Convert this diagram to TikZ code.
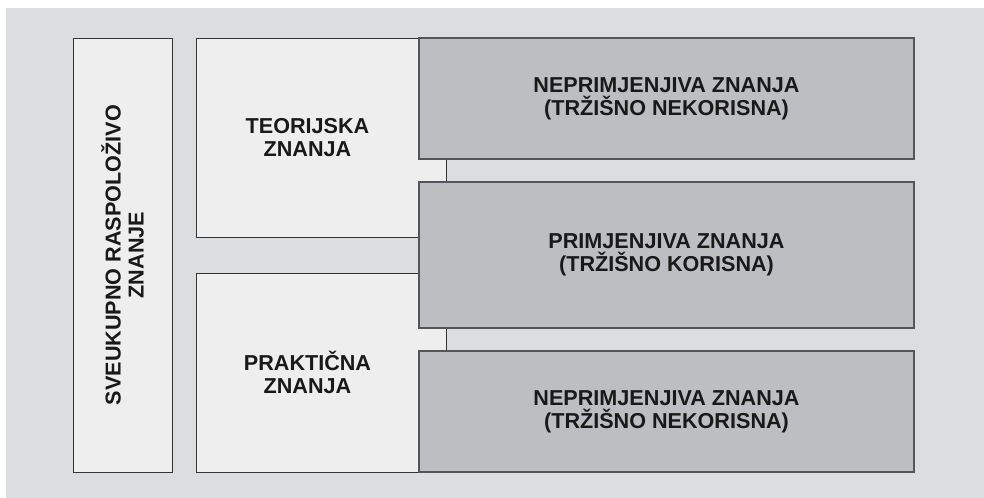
\documentclass[tikz,border=0pt]{standalone}
\usepackage{fontspec}
\setmainfont{Liberation Sans}
\definecolor{bgcol}{RGB}{220,221,223}
\definecolor{lightcol}{RGB}{238,238,238}
\definecolor{darkcol}{RGB}{189,190,193}
\definecolor{framecol}{RGB}{85,85,88}

\begin{document}
\begin{tikzpicture}[x=0.75pt,y=-0.75pt,
    every node/.style={inner sep=0pt,outer sep=0pt,text=black!90,
      font=\fontsize{16.2}{17.25}\selectfont\bfseries,align=center},
    light box/.style={rectangle,draw=black!80,fill=lightcol,line width=0.7pt},
    dark box/.style={rectangle,draw=framecol,fill=darkcol,line width=1.1pt}]
    \useasboundingbox (0,0) rectangle (984,498);
    \fill[bgcol] (6,8) rectangle (984,498);
    % left column
    \node[light box,rotate=90,minimum width=325.5pt,minimum height=74.25pt]
      (total) at (122.5,255) {SVEUKUPNO RASPOLOŽIVO\\ZNANJE};
    % middle column
    \node[light box,anchor=north west,minimum width=187.5pt,minimum height=149.25pt]
      (theory) at (196,38) {};
    \node[light box,anchor=north west,minimum width=187.5pt,minimum height=149.25pt]
      (practice) at (196,273) {};
    \node (theorytext) at (307.5,138) {TEORIJSKA\\ZNANJA};
    \node (practicetext) at (307.5,372.5) {PRAKTIČNA\\ZNANJA};
    % right column
    \node[dark box,anchor=north west,minimum width=371.25pt,minimum height=90.75pt]
      (useless1) at (419,38) {NEPRIMJENJIVA ZNANJA\\(TRŽIŠNO NEKORISNA)};
    \node[dark box,anchor=north west,minimum width=371.25pt,minimum height=109.5pt]
      (useful) at (419,182) {PRIMJENJIVA ZNANJA\\(TRŽIŠNO KORISNA)};
    \node[dark box,anchor=north west,minimum width=371.25pt,minimum height=90.75pt]
      (useless2) at (419,351) {NEPRIMJENJIVA ZNANJA\\(TRŽIŠNO NEKORISNA)};
\end{tikzpicture}
\end{document}
